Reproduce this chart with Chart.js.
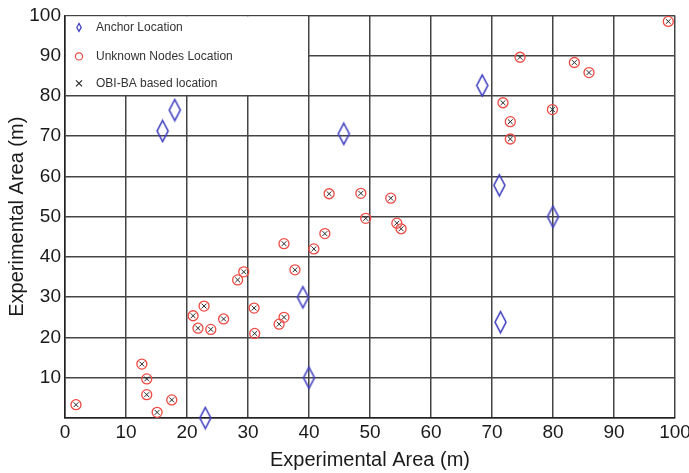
<!DOCTYPE html>
<html>
<head>
<meta charset="utf-8">
<title>Node localization</title>
<script src="https://cdn.jsdelivr.net/npm/chart.js@4.4.1/dist/chart.umd.min.js"></script>
<style>
  body { margin: 0; background: #fff; }
</style>
</head>
<body>
<canvas id="grafico" width="689" height="473"></canvas>
<script>
/* valores */

const anchorX = [16.0, 18.0, 45.7, 68.4, 71.2, 80.0, 71.4, 39.0, 40.0, 23.0]
const anchorY = [71.3, 76.5, 70.6, 82.6, 57.8, 50.0, 23.8, 30.0, 10.0, 0.0]

const unknownX = [1.8, 12.6, 13.4, 13.4, 15.1, 17.5, 21.0, 21.8, 22.8, 23.9, 26.0, 28.3,
  29.3, 31.0, 31.1, 35.1, 35.9, 35.9, 37.7, 40.8, 42.6, 43.3, 48.5, 53.4, 49.3, 54.4,
  55.1, 98.9, 74.6, 83.5, 85.9, 71.8, 79.9, 73.0, 73.0]
const unknownY = [3.3, 13.4, 9.7, 5.8, 1.4, 4.5, 25.4, 22.3, 27.8, 22.0, 24.6, 34.3,
  36.3, 27.3, 21.0, 23.3, 25.0, 43.3, 36.8, 42.0, 45.8, 55.7, 55.8, 54.6, 49.6, 48.4,
  47.0, 98.5, 89.6, 88.3, 85.8, 78.3, 76.6, 73.6, 69.3]

/* a estimativa do OBI-BA cai em cima dos nós desconhecidos */
const obiX = unknownX
const obiY = unknownY

const xTickLabels = ['0', '10', '20', '30', '40', '50', '60', '70', '80', '90', '100']
const yTickLabels = ['', '10', '20', '30', '40', '50', '60', '70', '80', '90', '100']

const axisTitle = 'Experimental Area (m)'

const corAncora = '#4040c0'
const corNo = '#ee4a44'
const corObi = '#2a2a2a'

function juntaPontos(xs, ys) {
    return xs.map((x, i) => ({ x: x, y: ys[i] }))
}

/* losango alto usado como marcador das âncoras */
function criaLosango(w, h, cor) {
    const c = document.createElement('canvas')
    c.width = w + 4
    c.height = h + 4
    const g = c.getContext('2d')
    g.strokeStyle = cor
    g.lineWidth = 1.6
    g.beginPath()
    g.moveTo(c.width / 2, 2)
    g.lineTo(c.width - 2, c.height / 2)
    g.lineTo(c.width / 2, c.height - 2)
    g.lineTo(2, c.height / 2)
    g.closePath()
    g.stroke()
    return c
}

/* legenda dentro da área do gráfico, como no MATLAB */
const legendaInterna = {
    id: 'legendaInterna',
    beforeDatasetsDraw(chart) {
        const { ctx, scales: { x, y } } = chart
        const l = x.getPixelForValue(0), r = x.getPixelForValue(40)
        const t = y.getPixelForValue(100), b = y.getPixelForValue(80)
        ctx.save()
        ctx.fillStyle = '#ffffff'
        ctx.fillRect(l + 1, t + 1, r - l - 2, b - t - 2)

        const linhas = [t + 12, t + 41, t + 68]
        const mx = l + 14
        ctx.font = '12px "Liberation Sans", Arial, sans-serif'
        ctx.textBaseline = 'middle'
        chart.data.datasets.forEach((ds, i) => {
            const my = linhas[i]
            ctx.strokeStyle = ds.borderColor
            ctx.lineWidth = 1.2
            ctx.beginPath()
            if (ds.marcador === 'losango') {
                ctx.moveTo(mx, my - 4)
                ctx.lineTo(mx + 2.2, my)
                ctx.lineTo(mx, my + 4)
                ctx.lineTo(mx - 2.2, my)
                ctx.closePath()
            } else if (ds.marcador === 'circulo') {
                ctx.arc(mx, my, 3.6, 0, Math.PI * 2)
            } else {
                ctx.moveTo(mx - 3, my - 3); ctx.lineTo(mx + 3, my + 3)
                ctx.moveTo(mx + 3, my - 3); ctx.lineTo(mx - 3, my + 3)
            }
            ctx.stroke()
            ctx.fillStyle = '#333333'
            ctx.fillText(ds.label, l + 31, my)
        })
        ctx.restore()
    }
}

const fonteEixo = { family: '"Liberation Sans", Arial, sans-serif', size: 19 }
const fonteTitulo = { family: '"Liberation Sans", Arial, sans-serif', size: 20 }

const grafico = document.getElementById('grafico')
const graficoLocalizacao = new Chart(grafico, {
    type: 'scatter',
    data: {
        datasets: [{
            label: 'Anchor Location',
            marcador: 'losango',
            data: juntaPontos(anchorX, anchorY),
            pointStyle: criaLosango(11, 21, corAncora),
            borderColor: corAncora,
            backgroundColor: 'transparent',
            clip: false
        }, {
            label: 'Unknown Nodes Location',
            marcador: 'circulo',
            data: juntaPontos(unknownX, unknownY),
            pointStyle: 'circle',
            pointRadius: 5,
            borderWidth: 1.3,
            borderColor: corNo,
            backgroundColor: 'transparent',
            clip: false
        }, {
            label: 'OBI-BA based location',
            marcador: 'x',
            data: juntaPontos(obiX, obiY),
            pointStyle: 'crossRot',
            pointRadius: 3.4,
            borderWidth: 1,
            borderColor: corObi,
            backgroundColor: 'transparent',
            clip: false
        }]
    },
    plugins: [legendaInterna],
    options: {
        responsive: false,
        animation: false,
        devicePixelRatio: 1,
        layout: { padding: { top: 13, right: 14, left: 0, bottom: 0 } },
        plugins: {
            legend: { display: false },
            tooltip: { enabled: false }
        },
        scales: {
            x: {
                type: 'linear',
                min: 0,
                max: 100,
                afterFit: s => { s.height = 55; s.paddingRight = 14 },
                ticks: {
                    stepSize: 10,
                    padding: 3,
                    color: '#1a1a1a',
                    font: fonteEixo,
                    maxRotation: 0,
                    callback: (v, i) => xTickLabels[i]
                },
                grid: { color: '#444444', lineWidth: 1.5, drawTicks: false },
                border: { color: '#222222', width: 1.5 },
                title: {
                    display: true,
                    text: axisTitle,
                    color: '#1a1a1a',
                    font: fonteTitulo,
                    padding: { top: 0, bottom: 1 }
                }
            },
            y: {
                type: 'linear',
                min: 0,
                max: 100,
                afterFit: s => { s.width = 65 },
                ticks: {
                    stepSize: 10,
                    padding: 4,
                    color: '#1a1a1a',
                    font: fonteEixo,
                    callback: (v, i) => yTickLabels[i]
                },
                grid: { color: '#444444', lineWidth: 1.5, drawTicks: false },
                border: { color: '#222222', width: 1.5 },
                title: {
                    display: true,
                    text: axisTitle,
                    color: '#1a1a1a',
                    font: fonteTitulo,
                    padding: { top: 5, bottom: 0 }
                }
            }
        }
    }
})
</script>
</body>
</html>
